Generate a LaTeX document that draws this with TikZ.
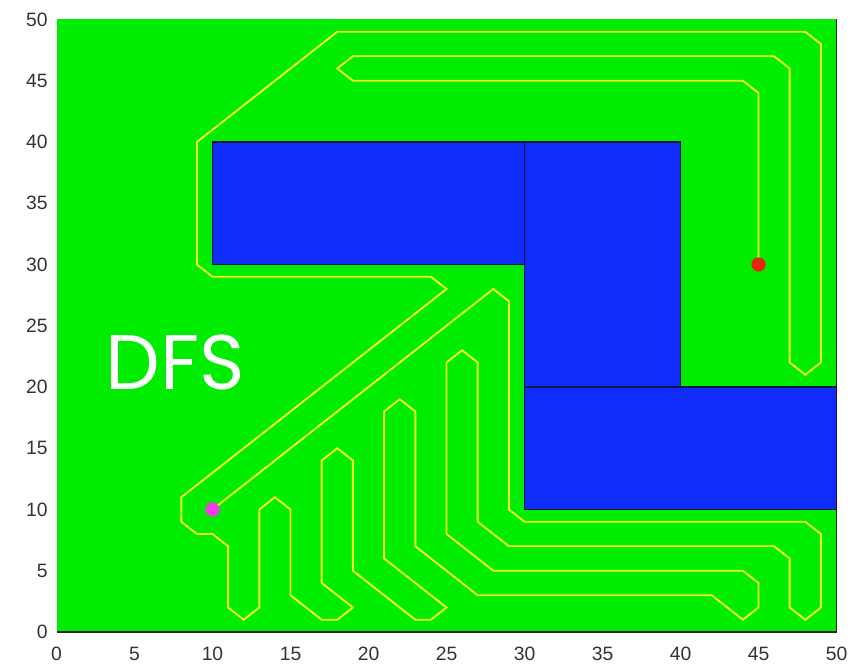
\documentclass[tikz,border=0pt]{standalone}
\usepackage{fontspec}
\setmainfont{Liberation Sans}
\newfontfamily\dfsfont{Poppins}
\usepackage{xcolor}
\usepackage{tikz}
\usetikzlibrary{positioning}

\definecolor{fieldgreen}{RGB}{0,236,0}
\definecolor{obstblue}{RGB}{16,44,250}
\definecolor{obstedge}{RGB}{10,20,70}
\definecolor{trailyellow}{RGB}{238,248,30}
\definecolor{startpink}{RGB}{240,60,235}
\definecolor{goalred}{RGB}{228,40,10}

\begin{document}
\begin{tikzpicture}[
    x=0.312cm, y=0.245cm,
    field/.style={fill=fieldgreen, draw=none},
    frame/.style={draw=black!85, line width=0.7pt},
    obstacle/.style={fill=obstblue, draw=obstedge, line width=0.8pt},
    trail/.style={draw=trailyellow, line width=1.1pt, line join=miter},
    marker/.style={circle, minimum size=2.8mm, inner sep=0pt},
    xtick/.style={anchor=north, inner sep=0pt, yshift=-0.3cm,
      font=\fontsize{11}{11}\selectfont, text=black!80},
    ytick/.style={anchor=east, inner sep=0pt, xshift=-0.17cm,
      font=\fontsize{11}{11}\selectfont, text=black!80},
    tag/.style={text=white, inner sep=0pt, font=\dfsfont\fontsize{44}{44}\selectfont}
]
\useasboundingbox (-1.13cm,-0.68cm) rectangle (16.17cm,12.64cm);
\fill[field] (0,0) rectangle (50,50);
\draw[frame] (0,0) -- (50,0) -- (50,50);

% obstacles
\draw[obstacle] (10,30) rectangle (30,40);
\draw[obstacle] (30,20) rectangle (40,40);
\draw[obstacle] (30,10) rectangle (50,20);

% start and goal
\node[marker, fill=startpink] (start) at (10,10) {};
\node[marker, fill=goalred] (goal) at (45,30) {};

% search trail
\draw[trail] (start.center) -- (28,28) -- (29,27) -- (29,10) -- (30,9)
  -- (48,9) -- (49,8) -- (49,2) -- (48,1) -- (47,2) -- (47,6) -- (46,7)
  -- (29,7) -- (27,9) -- (27,22) -- (26,23) -- (25,22) -- (25,8) -- (28,5)
  -- (44,5) -- (45,4) -- (45,2) -- (44,1) -- (42,3) -- (27,3) -- (23,7)
  -- (23,18) -- (22,19) -- (21,18) -- (21,6) -- (25,2) -- (24,1) -- (23,1)
  -- (19,5) -- (19,14) -- (18,15) -- (17,14) -- (17,4) -- (19,2) -- (18,1)
  -- (17,1) -- (15,3) -- (15,10) -- (14,11) -- (13,10) -- (13,2) -- (12,1)
  -- (11,2) -- (11,7) -- (10,8) -- (9,8) -- (8,9) -- (8,11) -- (25,28)
  -- (24,29) -- (10,29) -- (9,30) -- (9,40) -- (18,49) -- (48,49) -- (49,48)
  -- (49,22) -- (48,21) -- (47,22) -- (47,46) -- (46,47) -- (19,47) -- (18,46)
  -- (19,45) -- (44,45) -- (45,44) -- (goal.center);
\node[marker, fill=startpink] at (start) {};
\node[marker, fill=goalred] at (goal) {};

\node[tag] (title) at (7.6,22) {DFS};

% axis labels
\node[xtick] (x0) at (0,0) {0};
\node[xtick] (x5) at (5,0) {5};
\node[xtick] (x10) at (10,0) {10};
\node[xtick] (x15) at (15,0) {15};
\node[xtick] (x20) at (20,0) {20};
\node[xtick] (x25) at (25,0) {25};
\node[xtick] (x30) at (30,0) {30};
\node[xtick] (x35) at (35,0) {35};
\node[xtick] (x40) at (40,0) {40};
\node[xtick] (x45) at (45,0) {45};
\node[xtick] (x50) at (50,0) {50};
\node[ytick] (y0) at (0,0) {0};
\node[ytick] (y5) at (0,5) {5};
\node[ytick] (y10) at (0,10) {10};
\node[ytick] (y15) at (0,15) {15};
\node[ytick] (y20) at (0,20) {20};
\node[ytick] (y25) at (0,25) {25};
\node[ytick] (y30) at (0,30) {30};
\node[ytick] (y35) at (0,35) {35};
\node[ytick] (y40) at (0,40) {40};
\node[ytick] (y45) at (0,45) {45};
\node[ytick] (y50) at (0,50) {50};
\end{tikzpicture}
\end{document}
